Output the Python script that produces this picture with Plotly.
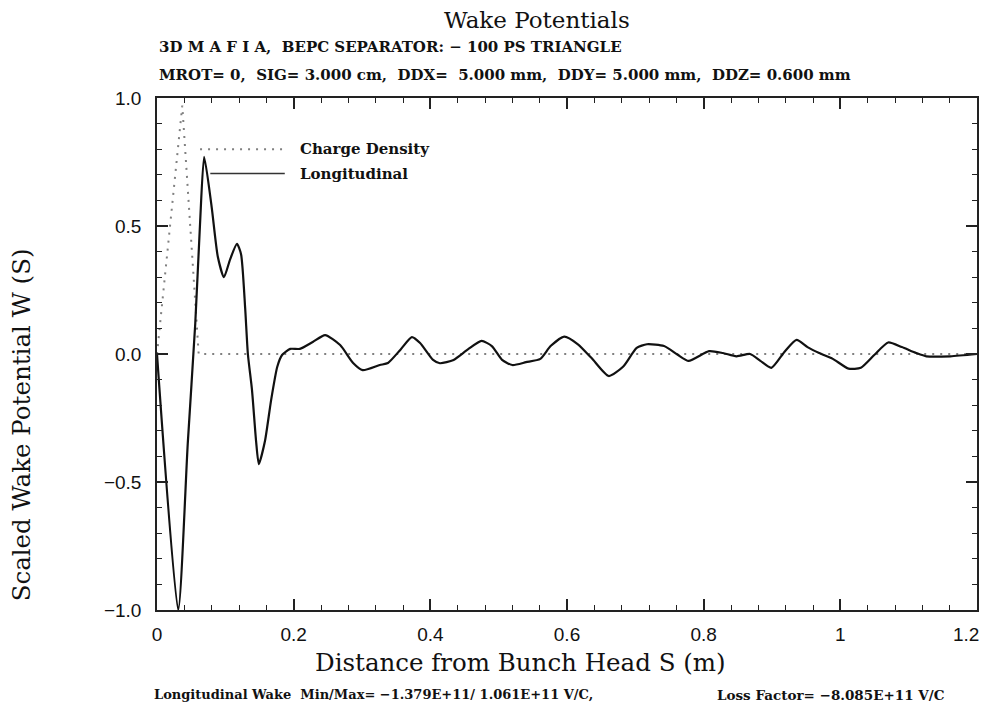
import plotly.graph_objects as go

# ---- data ----
charge_s = [0.0, 0.037, 0.061, 1.2]
charge_w = [0.0, 0.97, 0.0, 0.0]

wake_s = [0.0, 0.031, 0.045, 0.056, 0.063, 0.069, 0.080, 0.089, 0.098, 0.107, 0.117,
          0.123, 0.129, 0.133, 0.139, 0.145, 0.149, 0.158, 0.167, 0.176, 0.183, 0.195,
          0.209, 0.228, 0.246, 0.268, 0.287, 0.301, 0.326, 0.338, 0.356, 0.373, 0.385,
          0.404, 0.414, 0.434, 0.455, 0.475, 0.490, 0.505, 0.520, 0.540, 0.561, 0.576,
          0.596, 0.616, 0.636, 0.661, 0.682, 0.702, 0.717, 0.742, 0.762, 0.778, 0.808,
          0.828, 0.848, 0.868, 0.883, 0.899, 0.919, 0.936, 0.952, 0.969, 0.989, 1.012,
          1.030, 1.050, 1.070, 1.090, 1.111, 1.126, 1.161, 1.200]
wake_w = [0.0, -1.0, -0.35, 0.12, 0.51, 0.77, 0.574, 0.38, 0.30, 0.37, 0.43,
          0.39, 0.18, 0.0, -0.14, -0.34, -0.43, -0.34, -0.18, -0.05, -0.004, 0.02,
          0.02, 0.047, 0.074, 0.035, -0.035, -0.063, -0.043, -0.035, 0.016, 0.066, 0.043,
          -0.023, -0.036, -0.023, 0.018, 0.051, 0.031, -0.023, -0.043, -0.032, -0.019, 0.031,
          0.068, 0.038, -0.016, -0.086, -0.05, 0.024, 0.038, 0.031, -0.003, -0.027, 0.011,
          0.004, -0.009, 0.0, -0.027, -0.054, 0.011, 0.055, 0.027, 0.004, -0.019, -0.057,
          -0.054, -0.003, 0.045, 0.027, 0.004, -0.009, -0.009, 0.0]

x_ticks = [0, 0.2, 0.4, 0.6, 0.8, 1.0, 1.2]
x_tick_text = ["0", "0.2", "0.4", "0.6", "0.8", "1", "1.2"]
y_ticks = [-1.0, -0.5, 0.0, 0.5, 1.0]

title_text = "Wake Potentials"
sub1 = "3D M A F I A,\u00a0\u00a0BEPC SEPARATOR: \u2212 100 PS TRIANGLE"
sub2 = ("MROT= 0,\u00a0\u00a0SIG= 3.000 cm,\u00a0\u00a0DDX=\u00a0\u00a05.000 mm,\u00a0\u00a0"
        "DDY= 5.000 mm,\u00a0\u00a0DDZ= 0.600 mm")
bottom1 = "Longitudinal Wake\u00a0\u00a0Min/Max= \u22121.379E+11/ 1.061E+11 V/C,"
bottom2 = "Loss Factor= \u22128.085E+11 V/C"
x_title = "Distance from Bunch Head S (m)"
y_title = "Scaled Wake Potential W (S)"
legend_names = ["Charge Density", "Longitudinal"]

SERIF = "DejaVu Serif"
SANS = "Liberation Sans"

fig = go.Figure()
fig.add_trace(go.Scatter(x=charge_s, y=charge_w, mode="lines",
                         line=dict(color="#808080", width=2, dash="2px,6px"),
                         name=legend_names[0], showlegend=False))
fig.add_trace(go.Scatter(x=wake_s, y=wake_w, mode="lines",
                         line=dict(color="#111111", width=2.2, shape="spline", smoothing=0.6),
                         name=legend_names[1], showlegend=False))

# legend drawn manually
fig.add_shape(type="line", xref="x", yref="y", x0=0.063, x1=0.187, y0=0.80, y1=0.80,
              line=dict(color="#808080", width=2, dash="2px,6px"))
fig.add_shape(type="line", xref="x", yref="y", x0=0.078, x1=0.187, y0=0.705, y1=0.705,
              line=dict(color="#333333", width=1.5))
fig.add_annotation(x=0.206, y=0.80, xref="x", yref="y", text="<b>" + legend_names[0] + "</b>",
                   showarrow=False, xanchor="left", yanchor="middle",
                   font=dict(family=SERIF, size=15, color="#111"))
fig.add_annotation(x=0.206, y=0.705, xref="x", yref="y", text="<b>" + legend_names[1] + "</b>",
                   showarrow=False, xanchor="left", yanchor="middle",
                   font=dict(family=SERIF, size=15, color="#111"))

# last x tick label (at the right edge) placed as text so it is not clipped by the page edge
fig.add_annotation(x=x_ticks[-1], y=0, xref="x", yref="paper", text=x_tick_text[-1],
                   showarrow=False, xanchor="right", yanchor="top", xshift=4, yshift=-12,
                   font=dict(family=SANS, size=19, color="#111"))

# texts
fig.add_annotation(x=0.463, y=1.153, xref="paper", yref="paper", text=title_text,
                   showarrow=False, xanchor="center", yanchor="middle",
                   font=dict(family=SERIF, size=23, color="#111"))
fig.add_annotation(x=0.0, y=1.0996, xref="paper", yref="paper", text="<b>" + sub1 + "</b>",
                   showarrow=False, xanchor="left", yanchor="middle",
                   font=dict(family=SERIF, size=15, color="#111"))
fig.add_annotation(x=0.0, y=1.045, xref="paper", yref="paper", text="<b>" + sub2 + "</b>",
                   showarrow=False, xanchor="left", yanchor="middle",
                   font=dict(family=SERIF, size=15, color="#111"))
fig.add_annotation(x=-0.006, y=-0.166, xref="paper", yref="paper", text="<b>" + bottom1 + "</b>",
                   showarrow=False, xanchor="left", yanchor="middle",
                   font=dict(family=SERIF, size=13, color="#111"))
fig.add_annotation(x=0.680, y=-0.166, xref="paper", yref="paper", text="<b>" + bottom2 + "</b>",
                   showarrow=False, xanchor="left", yanchor="middle",
                   font=dict(family=SERIF, size=13.5, color="#111"))
fig.add_annotation(x=0.443, y=-0.1035, xref="paper", yref="paper", text=x_title,
                   showarrow=False, xanchor="center", yanchor="middle",
                   font=dict(family=SERIF, size=24.5, color="#111"))
fig.add_annotation(x=-0.165, y=0.362, xref="paper", yref="paper", text=y_title,
                   showarrow=False, xanchor="center", yanchor="middle", textangle=-90,
                   font=dict(family=SERIF, size=24.5, color="#111"))

fig.update_xaxes(range=[0, 1.2], tickvals=x_ticks[:-1], ticktext=x_tick_text[:-1],
                 ticks="inside", ticklen=11, tickwidth=1.5, tickcolor="#222",
                 minor=dict(dtick=0.04, tick0=0, ticks="inside", ticklen=5, tickwidth=1, tickcolor="#222"),
                 showline=True, linecolor="#222", linewidth=1.5, mirror="ticks",
                 showgrid=False, zeroline=False, automargin=False,
                 tickfont=dict(family=SANS, size=19, color="#111"), ticklabelstandoff=6)
fig.update_yaxes(range=[-1.0, 1.0], tickvals=y_ticks, tickformat=".1f",
                 ticks="inside", ticklen=11, tickwidth=1.5, tickcolor="#222",
                 minor=dict(dtick=0.1, tick0=0, ticks="inside", ticklen=5, tickwidth=1, tickcolor="#222"),
                 showline=True, linecolor="#222", linewidth=1.5, mirror="ticks",
                 showgrid=False, zeroline=False, automargin=False,
                 tickfont=dict(family=SANS, size=19, color="#111"), ticklabelstandoff=10)

# page body has an 8px margin, so the figure is sized/offset to put the plot box at 157..977 x 98..610
fig.update_layout(width=974, height=696, margin=dict(l=149, r=5, t=90, b=94),
                  paper_bgcolor="white", plot_bgcolor="white", showlegend=False)

fig.write_html("out.html")
